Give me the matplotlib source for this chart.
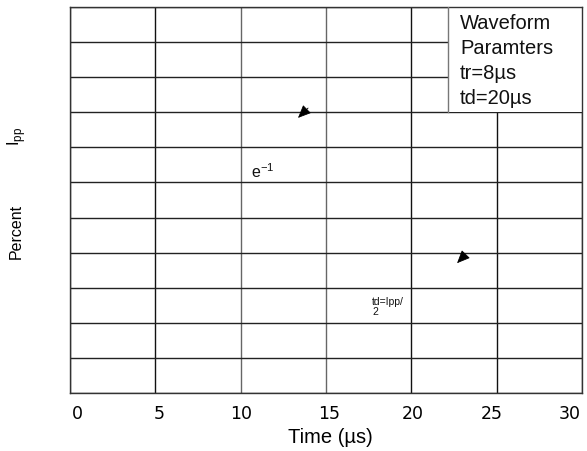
import matplotlib
matplotlib.use("Agg")
import matplotlib.pyplot as plt
from matplotlib.patches import Rectangle
from matplotlib.transforms import ScaledTranslation

plt.rcParams["font.family"] = ["Liberation Sans", "DejaVu Sans"]
plt.rcParams["mathtext.fontset"] = "custom"
plt.rcParams["mathtext.rm"] = "Liberation Sans"

# axis layout (time in microseconds, amplitude in percent of Ipp)
time_ticks = [0, 5, 10, 15, 20, 25, 30]
time_labels = ["0", "5", "10", "15", "20", "25", "30"]
percent_ticks = [0, 10, 20, 30, 40, 50, 60, 70, 80, 90, 100, 110]

# arrowheads left from the waveform drawing
arrow_tips_x = [13.36, 22.68]
arrow_tips_y = [78.4, 37.0]
arrow_tails_x = [13.95, 23.14]
arrow_tails_y = [81.2, 39.3]

params_lines = ["Waveform", "Paramters", "tr=8\u00b5s", "td=20\u00b5s"]

W, H = 587, 452
fig = plt.figure(figsize=(W / 100, H / 100), dpi=100)
ax = fig.add_axes([70 / W, 1 - 394 / H, 512 / W, 386 / H])

ax.set_xlim(time_ticks[0], time_ticks[-1])
ax.set_ylim(percent_ticks[0], percent_ticks[-1])
ax.set_xticks(time_ticks)
ax.set_xticklabels(time_labels, fontfamily="DejaVu Sans", fontsize=12.5)
ax.set_yticks(percent_ticks)
ax.set_yticklabels([])
ax.tick_params(axis="both", length=0)
ax.tick_params(axis="x", pad=8)

# the labels in the original sit a little off their grid lines
label_shift_px = [7, 4, 0, 3, 1, -5, -12]
for label, dx in zip(ax.get_xticklabels(), label_shift_px):
    label.set_transform(label.get_transform() + ScaledTranslation(dx / 100, 0, fig.dpi_scale_trans))

ax.grid(True, color="#222222", linewidth=1.0)
for tick, line in zip(time_ticks, ax.get_xgridlines()):
    if tick in (10, 15):
        line.set_color("#666666")
    elif tick in (5, 20, 25):
        line.set_color("#111111")
for spine in ax.spines.values():
    spine.set_color("#333333")
    spine.set_linewidth(1.0)
ax.set_axisbelow(True)

# parameter box in the top right corner, hides the grid behind it
box_left = (448 - 70) / 512 * 30
ax.add_patch(Rectangle((box_left, 80), 30 - box_left, 30, facecolor="white",
                       edgecolor="none", zorder=2))
ax.plot([box_left, box_left], [80, 110], color="#777777", lw=1.0, zorder=3)
ax.text(22.85, 108.3, "\n".join(params_lines), fontsize=14.5, va="top", ha="left",
        linespacing=1.4, color="#111111", zorder=4)

for tx, ty, sx, sy in zip(arrow_tips_x, arrow_tips_y, arrow_tails_x, arrow_tails_y):
    ax.annotate("", xy=(tx, ty), xytext=(sx, sy),
                arrowprops=dict(arrowstyle="-|>,head_length=0.8,head_width=0.35",
                                color="black", lw=0.6, shrinkA=0, shrinkB=0),
                zorder=5)

ax.text(10.6, 63.5, r"e$^\mathregular{-1}$", fontsize=11.5, va="center", ha="left",
        color="#111111")
ax.text(17.7, 27.6, "td=Ipp/\n2", fontsize=7.5, va="top", ha="left",
        linespacing=1.0, color="#111111")

fig.text(330 / W, 1 - 438 / H, "Time (\u00b5s)", fontsize=14.5, ha="center", va="center")
fig.text(16 / W, 1 - 231 / H, "Percent", fontsize=11.5, rotation=90,
         ha="center", va="center")
fig.text(17 / W, 1 - 136 / H, r"I$_\mathregular{pp}$", fontsize=12, rotation=90,
         ha="center", va="center")

fig.savefig("out.png", dpi=100)
